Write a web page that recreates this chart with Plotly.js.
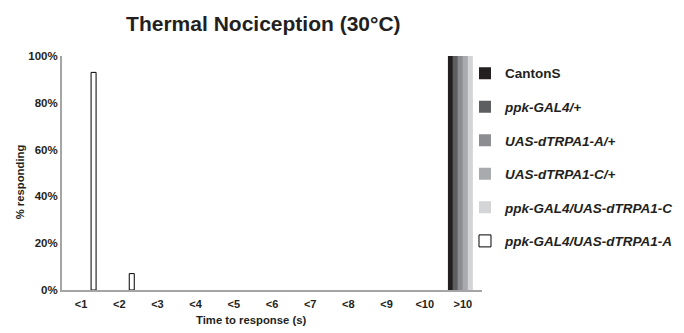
<!DOCTYPE html>
<html>
<head>
<meta charset="utf-8">
<script src="https://cdn.plot.ly/plotly-3.0.1.min.js"></script>
<style>html,body{margin:0;padding:0;background:#fff;}#chart{width:684px;height:333px;}</style>
</head>
<body>
<div id="chart"></div>
<script>
var categories = ['<1','<2','<3','<4','<5','<6','<7','<8','<9','<10','>10'];
var seriesNames = ['CantonS','ppk-GAL4/+','UAS-dTRPA1-A/+','UAS-dTRPA1-C/+','ppk-GAL4/UAS-dTRPA1-C','ppk-GAL4/UAS-dTRPA1-A'];
var legendLabels = ['CantonS','<i>ppk-GAL4/+</i>','<i>UAS-dTRPA1-A/+</i>','<i>UAS-dTRPA1-C/+</i>','<i>ppk-GAL4/UAS-dTRPA1-C</i>','<i>ppk-GAL4/UAS-dTRPA1-A</i>'];
var cantonS   = [0,0,0,0,0,0,0,0,0,0,1.00];
var ppkGal4   = [0,0,0,0,0,0,0,0,0,0,1.00];
var uasA      = [0,0,0,0,0,0,0,0,0,0,1.00];
var uasC      = [0,0,0,0,0,0,0,0,0,0,1.00];
var ppkUasC   = [0,0,0,0,0,0,0,0,0,0,1.00];
var ppkUasA   = [0.93,0.07,0,0,0,0,0,0,0,0,0];
var seriesValues = [cantonS, ppkGal4, uasA, uasC, ppkUasC, ppkUasA];
var fillColors = ['#231f20','#5d5e60','#8c8d90','#a8aaad','#d4d5d7','#ffffff'];
var lineColors = ['#231f20','#5d5e60','#8c8d90','#a8aaad','#d4d5d7','#000000'];
var lineWidths = [0,0,0,0,0,1];

var traces = seriesNames.map(function(n,i){
  return {
    type:'bar', name: legendLabels[i], x: categories, y: seriesValues[i],
    legendgroup: 'g'+i,
    marker:{color: fillColors[i], line:{color: lineColors[i],
      width: seriesValues[i].map(function(v){ return v > 0 ? lineWidths[i] : 0; })}},
    hoverinfo:'none'
  };
});

var font = 'Liberation Sans, Arial, sans-serif';
var ink = '#231f20';
var layout = {
  width:684, height:333,
  margin:{l:62, r:202, t:56, b:43, autoexpand:false},
  paper_bgcolor:'#fff', plot_bgcolor:'#fff',
  barmode:'group', bargap:0.215, bargroupgap:0,
  font:{family:font, color:ink},
  title:{text:'<b>Thermal Nociception (30°C)</b>', font:{family:font, size:21, color:ink}, x:0.385, xanchor:'center', y:0.93, yanchor:'middle'},
  xaxis:{type:'category', showline:true, linecolor:'#a5a5a5', linewidth:2, ticks:'', showgrid:false, zeroline:false,
    ticklabelstandoff:3, automargin:false,
    tickfont:{family:font, size:11, color:ink, weight:'bold'}},
  yaxis:{range:[0,1], dtick:0.2, tickformat:'.0%', showline:true, linecolor:'#a5a5a5', linewidth:2, ticks:'', showgrid:false, zeroline:false,
    automargin:false,
    tickfont:{family:font, size:11.5, color:ink, weight:'bold'}},
  annotations:[
    {text:'<b>Time to response (s)</b>', xref:'paper', yref:'paper', x:0.452, y:-0.128, xanchor:'center', yanchor:'middle', showarrow:false, font:{family:font, size:11.3, color:ink}},
    {text:'<b>% responding</b>', xref:'paper', yref:'paper', x:-0.1, xanchor:'center', y:0.46, yanchor:'middle', textangle:-90, showarrow:false, font:{family:font, size:11.3, color:ink}}
  ],
  showlegend:true,
  legend:{x:0.9595, xanchor:'left', y:0.992, yanchor:'top', tracegroupgap:13, traceorder:'grouped', maxheight:1,
    font:{family:font, size:13.5, color:ink, weight:'bold'}, bgcolor:'rgba(0,0,0,0)', borderwidth:0}
};
Plotly.newPlot('chart', traces, layout, {displayModeBar:false, staticPlot:true});
</script>
</body>
</html>
